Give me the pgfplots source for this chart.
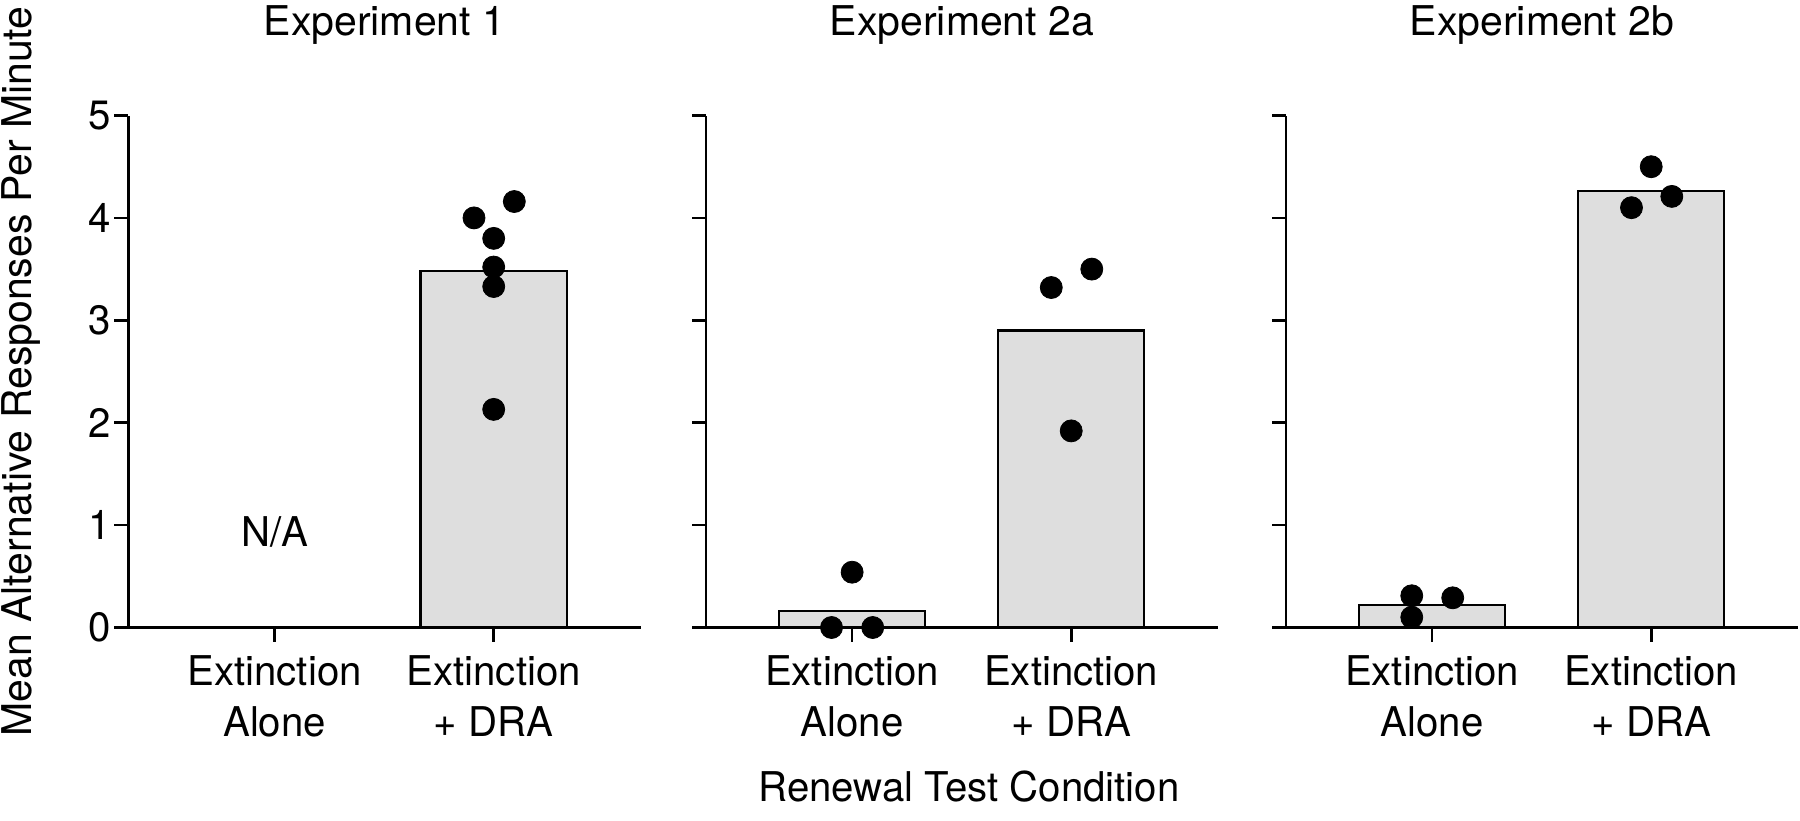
\documentclass[border=0pt]{standalone}
\usepackage{pgfplots}
\pgfplotsset{compat=1.18}
\usepackage{fontspec}
\setmainfont{TeX Gyre Heros}[FakeStretch=0.98]
\newfontfamily\plainfont{TeX Gyre Heros}
\definecolor{barfill}{RGB}{222,222,222}
\pgfplotsset{
  panel/.style={
    scale only axis, width=256pt, height=256pt,
    anchor=south west,
    xmin=-0.667, xmax=1.67, ymin=0, ymax=5,
    axis lines=left,
    axis line style={-, line width=1.3pt, black},
    x axis line style={shorten <=-7pt},
    tick style={line width=1.3pt, black},
    tick align=outside,
    major tick length=7pt,
    xtick={0,1}, ytick={0,1,2,3,4,5},
    xticklabels={{Extinction\\Alone},{Extinction\\+ DRA}},
    xticklabel style={align=center},
    yticklabel style={inner sep=1.5pt},
    /pgf/number format/assume math mode=true,
    clip=false,
    title style={at={(axis description cs:0.5,1)}, anchor=base, yshift=34pt, font=\plainfont},
  },
  bars/.style={ybar, bar width=0.667, fill=barfill, draw=black, line width=1.2pt},
  dots/.style={only marks, mark=*, mark size=5.5pt, black, mark options={fill=black, draw=black}},
}
\begin{document}
\fontsize{20.5}{25.5}\selectfont
\begin{tikzpicture}
\path[use as bounding box] (0,0) rectangle (900pt,410pt);

% Panel 1
\begin{axis}[panel, at={(64.25pt,96.25pt)},
  title={Experiment 1},
  ylabel={\plainfont Mean Alternative Responses Per Minute},
  every axis y label/.style={at={(axis description cs:-0.2482,0.5)}, rotate=90, anchor=north, inner sep=0pt},
]
\addplot[bars] coordinates {(1,3.48)};
\addplot[dots] coordinates {(0.91,4.00) (1.094,4.16) (1,3.80) (1,3.52) (1,3.33) (1,2.13)};
\node at (axis cs:0,0.93) {N/A};
\end{axis}

% Panel 2
\begin{axis}[panel, at={(353pt,96.25pt)},
  title={Experiment 2a},
  yticklabels={},
  xlabel={Renewal Test Condition},
  every axis x label/.style={at={(axis description cs:0.5,0)}, anchor=base, yshift=-87pt, xshift=3.5pt},
]
\addplot[bars] coordinates {(0,0.16) (1,2.90)};
\addplot[dots] coordinates {(0,0.54) (-0.094,0) (0.094,0) (0.909,3.32) (1.094,3.50) (1,1.92)};
\end{axis}

% Panel 3
\begin{axis}[panel, at={(643pt,96.25pt)},
  title={Experiment 2b},
  yticklabels={},
]
\addplot[bars] coordinates {(0,0.22) (1,4.26)};
\addplot[dots] coordinates {(-0.093,0.31) (0.094,0.29) (-0.093,0.10) (1,4.50) (0.91,4.10) (1.094,4.21)};
\end{axis}
\end{tikzpicture}
\end{document}
